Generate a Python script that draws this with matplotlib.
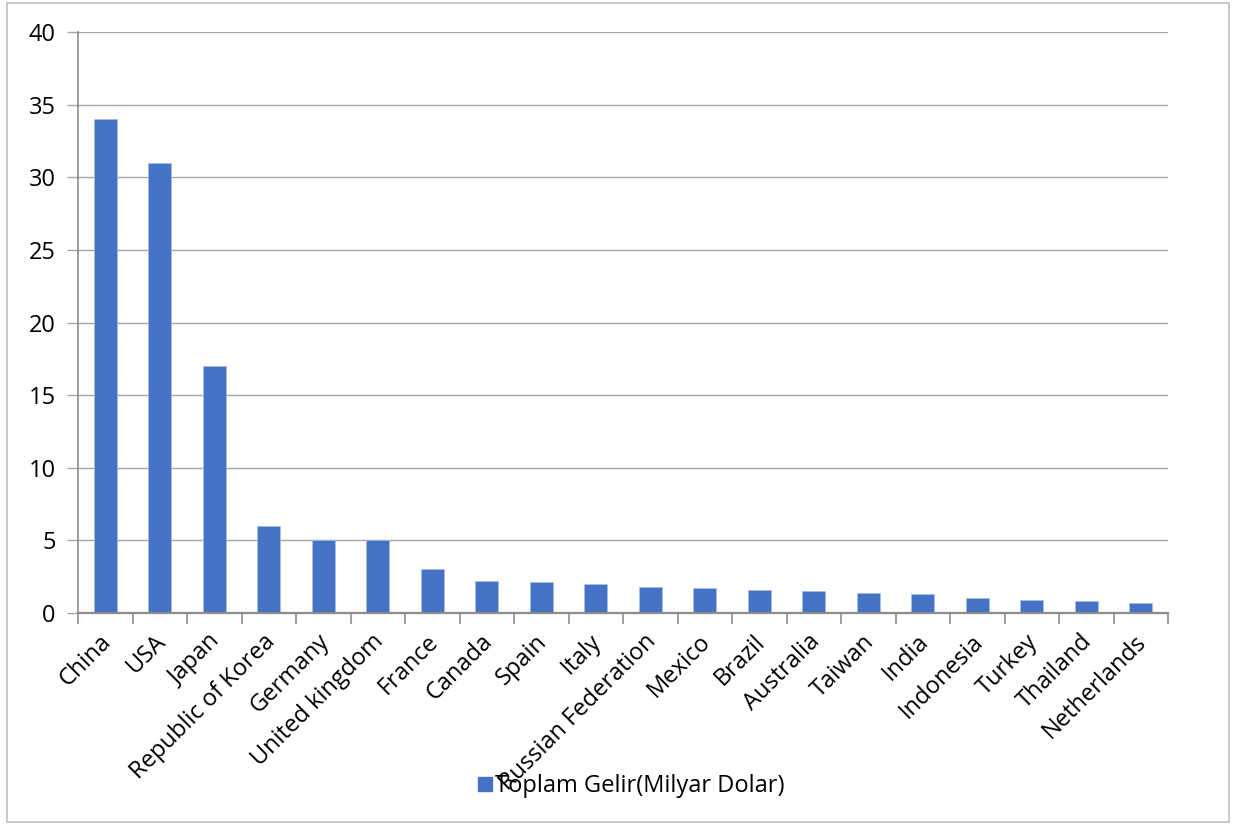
import matplotlib
matplotlib.use("Agg")
import matplotlib.pyplot as plt
from matplotlib.patches import Rectangle
from matplotlib.lines import Line2D
from matplotlib.transforms import ScaledTranslation

countries = ["China", "USA", "Japan", "Republic of Korea", "Germany", "United kingdom",
             "France", "Canada", "Spain", "Italy", "Russian Federation", "Mexico", "Brazil",
             "Australia", "Taiwan", "India", "Indonesia", "Turkey", "Thailand", "Netherlands"]
values = [34, 31, 17, 6, 5, 5, 3.0, 2.2, 2.1, 2.0, 1.8, 1.7, 1.6, 1.5, 1.4, 1.3, 1.0, 0.9, 0.8, 0.7]
yticks = [0, 5, 10, 15, 20, 25, 30, 35, 40]
series_name = "Toplam Gelir(Milyar Dolar)"

plt.rcParams['font.family'] = ['Open Sans', 'DejaVu Sans']
W, H = 1249, 825
fs = 17
fig = plt.figure(figsize=(W / 100, H / 100), dpi=100)
ax = fig.add_axes([78 / W, 1 - 613 / H, (1168 - 78) / W, (613 - 32) / H])

blue = "#4472C4"
grey = "#8c8c8c"
x = list(range(len(countries)))
ax.bar(x, values, width=0.42, color=blue, edgecolor="#a9bde6", linewidth=0.5, zorder=3)
ax.set_xlim(-0.5, len(countries) - 0.5)
ax.set_ylim(0, 40)
ax.set_yticks(yticks)
ax.set_yticklabels([str(t) for t in yticks], fontsize=fs)
ax.grid(axis="y", color="#a6a6a6", linewidth=1.0, zorder=0)
ax.tick_params(axis="y", length=8, color="#a6a6a6", width=1.0, pad=8)

# category labels
ax.set_xticks(x)
ax.set_xticklabels(countries, rotation=45, ha="right", rotation_mode="anchor", fontsize=fs)
ax.tick_params(axis="x", length=0, pad=12)
offset = ScaledTranslation(-6 / 100, 0, fig.dpi_scale_trans)
for lab in ax.get_xticklabels():
    lab.set_transform(lab.get_transform() + offset)
# boundary tick marks
ax.set_xticks([i - 0.5 for i in range(len(countries) + 1)], minor=True)
ax.tick_params(axis="x", which="minor", length=8, color=grey, width=1.2)

for s in ["top", "right"]:
    ax.spines[s].set_visible(False)
ax.spines["left"].set_color(grey)
ax.spines["left"].set_linewidth(1.2)
ax.spines["bottom"].set_color(grey)
ax.spines["bottom"].set_linewidth(1.6)
ax.spines["bottom"].set_zorder(4)

handle = Line2D([], [], marker="s", linestyle="none", markersize=10, color=blue)
fig.legend([handle], [series_name], loc="center", bbox_to_anchor=(630 / W, 1 - 786 / H),
           frameon=False, fontsize=fs, handletextpad=0.05, handlelength=0.8)

# outer border
fig.patches.append(Rectangle((7 / W, 3 / H), (1229 - 7) / W, (822 - 3) / H,
                             transform=fig.transFigure, fill=False,
                             edgecolor="#bfbfbf", linewidth=1.2))

fig.savefig("out.png", dpi=100)
